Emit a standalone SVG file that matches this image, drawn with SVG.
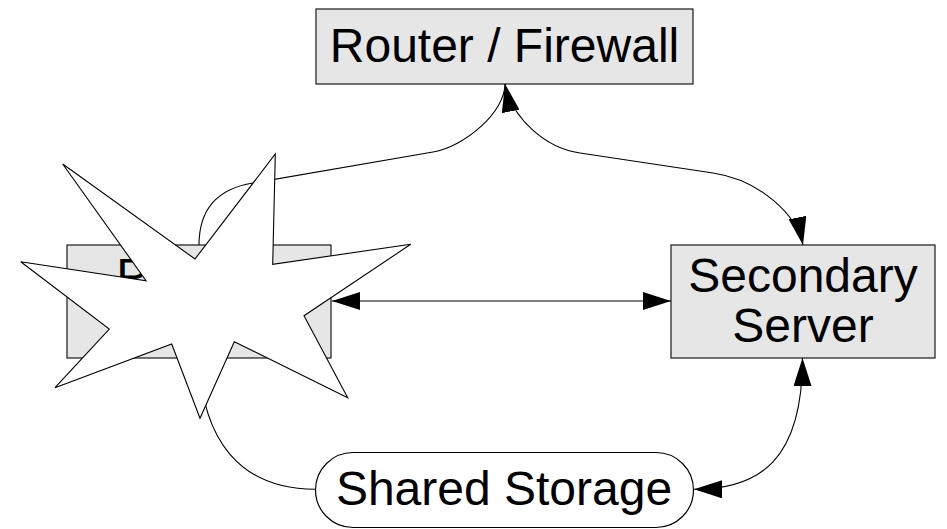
<svg xmlns="http://www.w3.org/2000/svg" width="947" height="529" viewBox="0 0 947 529">
  <style>
    .box { fill: #e6e6e6; stroke: #1a1a1a; stroke-width: 1.2; }
    .pill { fill: #ffffff; stroke: #000000; stroke-width: 1.2; }
    .label { font-family: "Liberation Sans", Arial, sans-serif; font-size: 48px; fill: #000000; text-anchor: middle; }
    .wire { fill: none; stroke: #000000; stroke-width: 1.1; }
    .both { marker-start: url(#arrow); marker-end: url(#arrow); }
    .burst { fill: #ffffff; stroke: #000000; stroke-width: 1.1; stroke-linejoin: miter; }
  </style>
  <defs>
    <marker id="arrow" viewBox="0 0 28 18" refX="28" refY="9" markerWidth="28" markerHeight="18" markerUnits="userSpaceOnUse" orient="auto-start-reverse">
      <path d="M0,0 L28,9 L0,18 z" fill="#000000"/>
    </marker>
  </defs>

  <!-- nodes -->
  <g id="router">
    <rect class="box" x="316" y="9" width="377" height="75"/>
    <text class="label" x="504.5" y="62">Router / Firewall</text>
  </g>

  <g id="primary">
    <rect class="box" x="67" y="245" width="264" height="113"/>
    <text class="label" x="199" y="292">Primary</text>
    <text class="label" x="199" y="342">Server</text>
  </g>

  <g id="secondary">
    <rect class="box" x="671" y="245" width="264" height="113"/>
    <text class="label" x="803" y="292">Secondary</text>
    <text class="label" x="803" y="342">Server</text>
  </g>

  <g id="storage">
    <rect class="pill" x="315.5" y="452.5" width="378" height="75" rx="37.5" ry="37.5"/>
    <text class="label" x="504" y="505">Shared Storage</text>
  </g>

  <!-- connectors -->
  <g id="connectors">
    <!-- primary to router -->
    <path class="wire" d="M199,245 C199,205 222,188 253,183 L433,152 C465,146.5 505,112 505,84"/>
    <!-- router to secondary -->
    <path class="wire both" d="M505,84 C512,118 545,148 580,153 L713,173 C760,180 797,215 803,245"/>
    <!-- primary to secondary -->
    <path class="wire both" d="M332,301 L671,301"/>
    <!-- secondary to storage -->
    <path class="wire both" d="M802.5,358 C802.5,460 760,489.3 694,489.3"/>
    <!-- storage to primary -->
    <path class="wire" d="M315,489.3 C240,489 202,440 199,358"/>
  </g>

  <!-- burst marking the failed server -->
  <g id="failure">
    <polygon class="burst" points="62.7,164 195,259 275.3,154 272.7,264.3 410.7,244.3 304,315.7 347.7,397.7 234.3,341.7 200,418.3 171.7,344 55,387.7 109.3,329 20.7,261.7 146,280.7"/>
  </g>
</svg>
